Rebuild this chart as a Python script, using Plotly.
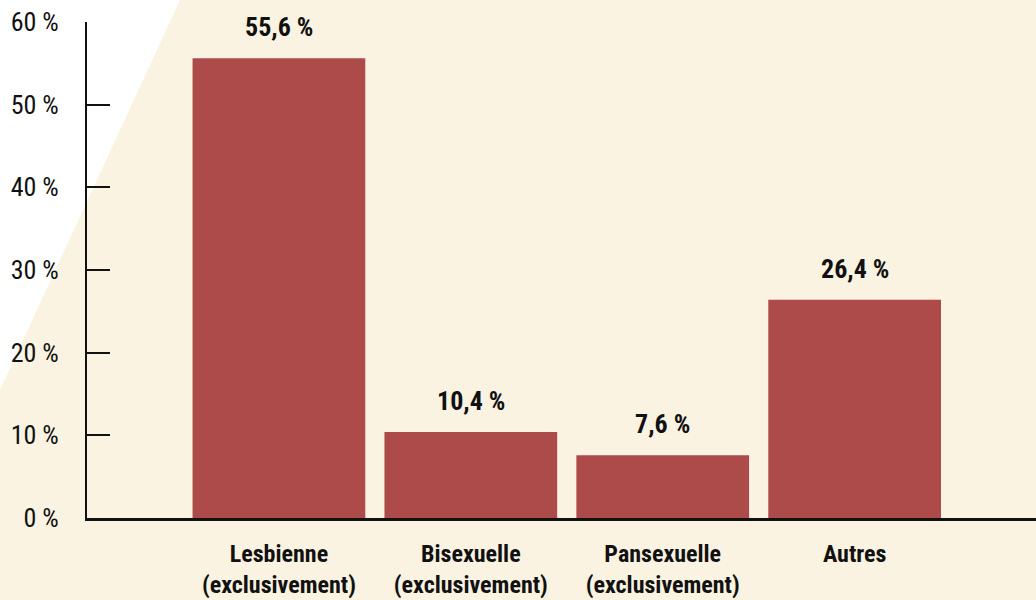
import plotly.graph_objects as go

categories = ["Lesbienne<br>(exclusivement)", "Bisexuelle<br>(exclusivement)",
              "Pansexuelle<br>(exclusivement)", "Autres"]
values = [55.6, 10.4, 7.6, 26.4]
tick_vals = [0, 10, 20, 30, 40, 50, 60]
tick_text = [f"{v} %" for v in tick_vals]
value_labels = [f"{v:.1f}".replace(".", ",") + " %" for v in values]

FONT = "Roboto Condensed, Liberation Sans Narrow, DejaVu Sans Condensed, Roboto, sans-serif"
CREAM = "#FAF3E1"
BAR = "#AD4A4A"

L, T, B = 87, 22, 82
W, H = 1036, 600
pw, ph = W - L, H - T - B

def px_x(x):
    return (x - L) / pw

def px_y(y):
    return (H - B - y) / ph

fig = go.Figure()
fig.add_trace(go.Bar(x=categories, y=values, marker=dict(color=BAR, line=dict(width=0)),
                     width=0.9, hoverinfo="skip"))

for c, v, t in zip(categories, values, value_labels):
    fig.add_annotation(x=c, y=v, text=f"<b>{t}</b>", showarrow=False, yanchor="bottom",
                       yshift=14, font=dict(family=FONT, size=26, color="#111111"))

fig.add_shape(type="path", xref="paper", yref="paper", layer="below",
              path=f"M {px_x(0)},{px_y(0)} L {px_x(180)},{px_y(0)} L {px_x(0)},{px_y(390)} Z",
              fillcolor="white", line=dict(width=0))

fig.update_layout(
    width=W, height=H,
    margin=dict(l=L, r=0, t=T, b=B, pad=0),
    paper_bgcolor=CREAM, plot_bgcolor="rgba(0,0,0,0)",
    showlegend=False, bargap=0.1,
    font=dict(family=FONT, color="#111111"),
    xaxis=dict(range=[-1, 3.945], showline=True, linecolor="#111111", linewidth=3,
               ticks="", showgrid=False, zeroline=False,
               ticklabelstandoff=12,
               tickfont=dict(family=FONT, size=24, color="#111111"),
               tickvals=categories,
               ticktext=[f"<b>{c}</b>" for c in categories]),
    yaxis=dict(range=[0, 60], showline=True, linecolor="#111111", linewidth=2,
               ticks="inside", ticklen=23, tickwidth=2, tickcolor="#111111",
               tickvals=tick_vals, ticktext=tick_text, showgrid=False, zeroline=False,
               ticklabelstandoff=21,
               tickfont=dict(family=FONT, size=26, color="#111111")),
)

fig.write_html("out.html", config={"displayModeBar": False},
               post_script="document.body.style.margin='0';document.body.style.padding='0';")
